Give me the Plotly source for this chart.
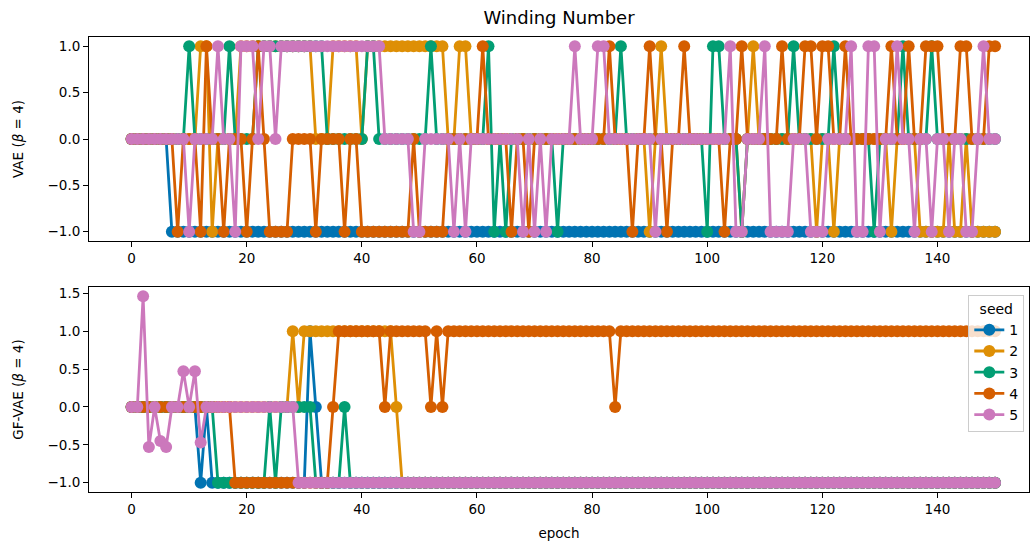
import plotly.graph_objects as go

# ---------------- data ----------------
epochs = list(range(151))
seeds = ["1", "2", "3", "4", "5"]
colors = ["#0173b2", "#de8f05", "#029e73", "#d55e00", "#cc78bc"]

# Top panel: VAE (beta = 4)
top_seed1 = [
    0, 0, 0, 0, 0, 0, 0, -1, -1, -1,
    -1, -1, -1, -1, -1, -1, -1, -1, -1, -1,
    -1, -1, -1, -1, -1, -1, -1, -1, -1, -1,
    -1, -1, -1, -1, -1, -1, -1, -1, -1, -1,
    -1, -1, -1, -1, -1, -1, -1, -1, -1, -1,
    -1, -1, -1, -1, -1, -1, -1, -1, -1, -1,
    -1, -1, -1, -1, -1, -1, -1, -1, -1, -1,
    -1, -1, -1, -1, -1, -1, -1, -1, -1, -1,
    -1, -1, -1, -1, -1, -1, -1, -1, -1, -1,
    -1, -1, -1, -1, -1, -1, -1, -1, -1, -1,
    -1, -1, -1, -1, -1, -1, -1, -1, -1, -1,
    -1, -1, -1, -1, -1, -1, -1, -1, -1, -1,
    -1, -1, -1, -1, -1, -1, -1, -1, -1, -1,
    -1, -1, -1, -1, -1, -1, -1, -1, -1, -1,
    -1, -1, -1, -1, -1, -1, -1, -1, -1, -1,
    -1,
]
top_seed2 = [
    0, 0, 0, 0, 0, 0, 0, 0, 0, 0,
    0, 0, 1, 1, -1, 0, 0, 0, 0, 1,
    1, 1, 1, 1, 1, 1, 1, 1, 1, 1,
    1, 1, 0, 0, 0, 1, 1, 1, 1, 1,
    0, 1, 1, 1, 1, 1, 1, 1, 1, 1,
    1, 1, 1, 1, 1, 0, 0, 1, 1, 0,
    0, 0, 0, 0, 0, 0, 0, 0, 0, 0,
    0, 0, 0, 0, 0, 0, 0, 0, 0, 0,
    0, 0, 0, 0, 0, 0, 0, 0, 0, 0,
    -1, 0, 1, 0, 0, 0, 0, 0, 0, 0,
    0, 0, 0, 0, 0, 0, -1, 0, 1, 0,
    0, 0, 0, 0, 0, 0, 0, 0, 0, -1,
    0, 0, -1, 0, 0, 0, 0, 0, 0, 0,
    0, 0, -1, 0, 0, 0, 0, -1, -1, -1,
    -1, -1, 0, -1, -1, 0, -1, -1, -1, -1,
    -1,
]
top_seed3 = [
    0, 0, 0, 0, 0, 0, 0, 0, 0, 0,
    1, 0, 0, 0, 0, 0, 0, 1, 0, 0,
    0, 0, 1, 1, 1, 1, 1, 1, 1, 1,
    1, 1, 1, 1, 0, 0, 0, 0, 0, 0,
    0, 1, 1, 0, 0, 0, 0, 0, 0, 0,
    0, 0, 1, 0, 0, 0, 0, 0, 0, 0,
    0, 0, 1, -1, 0, -1, 0, 0, 0, 0,
    0, 0, 0, 0, -1, 0, 0, 0, 0, 0,
    0, 0, 0, 0, 0, 1, 0, 0, 0, 0,
    0, 0, 0, 0, 0, 0, 0, 0, 0, 0,
    -1, 1, 1, 0, 0, 0, -1, 0, 0, 0,
    0, 0, 0, 0, 0, 1, 0, 0, 0, 0,
    0, 0, 1, 0, 0, 0, 0, 0, 0, -1,
    0, 0, 0, 0, 1, 0, 0, 0, 0, 1,
    0, 0, 0, 0, 0, 0, 0, 0, 0, 0,
    0,
]
top_seed4 = [
    0, 0, 0, 0, 0, 0, 0, 0, -1, 0,
    0, 0, -1, 1, 0, 0, -1, 0, 0, 0,
    -1, 0, 1, 0, -1, -1, -1, -1, 0, 0,
    0, 0, -1, 0, 0, 0, 0, -1, 0, 0,
    -1, -1, -1, -1, -1, -1, -1, -1, -1, 0,
    -1, -1, -1, -1, -1, 0, 0, 0, 0, 0,
    0, 1, 0, 0, 0, 0, -1, 0, 0, -1,
    0, 0, 0, 0, 0, 0, 0, 0, 0, 0,
    0, 0, 0, 1, 0, 0, 0, -1, 0, 0,
    1, 0, 0, -1, 0, 0, 1, 0, 0, 0,
    0, 0, 0, -1, 0, 0, 1, 0, 0, 0,
    0, 0, 0, 1, 0, 0, 0, 1, 1, 0,
    1, 1, 0, 0, 1, 0, 0, 0, 0, 0,
    0, 0, 1, 0, 0, 1, 0, 0, 1, 1,
    1, 0, 0, 0, 1, 1, 0, 0, 0, 1,
    1,
]
top_seed5 = [
    0, 0, 0, 0, 0, 0, 0, 0, 0, 0,
    -1, 0, 0, 0, 0, 1, 0, 0, -1, 1,
    1, 1, 0, 1, 1, 0, 1, 1, 1, 1,
    1, 1, 1, 1, 1, 1, 1, 1, 1, 1,
    1, 1, 1, 1, 0, 0, 0, 0, 0, -1,
    -1, 0, 0, 0, 0, 0, -1, 0, -1, 0,
    0, 0, 0, 0, 0, 0, 0, 0, -1, 0,
    -1, 0, -1, 0, 0, 0, 0, 1, 0, 0,
    0, 1, 1, 0, 0, 0, 0, 0, 0, 0,
    0, -1, 0, 0, 0, 0, 0, 0, 0, 0,
    0, 0, 0, 0, 1, -1, -1, 0, 0, 0,
    1, -1, -1, -1, -1, 0, 0, 0, -1, -1,
    -1, 0, 0, 0, 0, 1, -1, -1, 1, 1,
    -1, 0, 0, 1, 0, 0, -1, 0, 0, -1,
    0, 0, -1, 0, 0, -1, -1, 0, 1, 0,
    0,
]

# Bottom panel: GF-VAE (beta = 4)
bottom_seed1 = [
    0, 0, 0, 0, 0, 0, 0, 0, 0, 0,
    0, 0, -1, 0, -1, -1, -1, -1, -1, -1,
    -1, -1, -1, -1, -1, -1, -1, -1, -1, -1,
    -1, 1, 0, -1, -1, -1, -1, -1, -1, -1,
    -1, -1, -1, -1, -1, -1, -1, -1, -1, -1,
    -1, -1, -1, -1, -1, -1, -1, -1, -1, -1,
    -1, -1, -1, -1, -1, -1, -1, -1, -1, -1,
    -1, -1, -1, -1, -1, -1, -1, -1, -1, -1,
    -1, -1, -1, -1, -1, -1, -1, -1, -1, -1,
    -1, -1, -1, -1, -1, -1, -1, -1, -1, -1,
    -1, -1, -1, -1, -1, -1, -1, -1, -1, -1,
    -1, -1, -1, -1, -1, -1, -1, -1, -1, -1,
    -1, -1, -1, -1, -1, -1, -1, -1, -1, -1,
    -1, -1, -1, -1, -1, -1, -1, -1, -1, -1,
    -1, -1, -1, -1, -1, -1, -1, -1, -1, -1,
    -1,
]
bottom_seed2 = [
    0, 0, 0, 0, 0, 0, 0, 0, 0, 0,
    0, 0, 0, 0, 0, 0, 0, 0, 0, 0,
    0, 0, 0, 0, 0, 0, 0, 0, 1, 0,
    1, 1, 1, 1, 1, 1, 1, 1, 1, 1,
    1, 1, 1, 1, 1, 1, 0, -1, -1, -1,
    -1, -1, -1, -1, -1, -1, -1, -1, -1, -1,
    -1, -1, -1, -1, -1, -1, -1, -1, -1, -1,
    -1, -1, -1, -1, -1, -1, -1, -1, -1, -1,
    -1, -1, -1, -1, -1, -1, -1, -1, -1, -1,
    -1, -1, -1, -1, -1, -1, -1, -1, -1, -1,
    -1, -1, -1, -1, -1, -1, -1, -1, -1, -1,
    -1, -1, -1, -1, -1, -1, -1, -1, -1, -1,
    -1, -1, -1, -1, -1, -1, -1, -1, -1, -1,
    -1, -1, -1, -1, -1, -1, -1, -1, -1, -1,
    -1, -1, -1, -1, -1, -1, -1, -1, -1, -1,
    -1,
]
bottom_seed3 = [
    0, 0, 0, 0, 0, 0, 0, 0, 0, 0,
    0, 0, 0, 0, 0, -1, -1, -1, -1, -1,
    -1, -1, -1, -1, 0, -1, 0, 0, 0, 0,
    0, 0, -1, -1, -1, -1, -1, 0, -1, -1,
    -1, -1, -1, -1, -1, -1, -1, -1, -1, -1,
    -1, -1, -1, -1, -1, -1, -1, -1, -1, -1,
    -1, -1, -1, -1, -1, -1, -1, -1, -1, -1,
    -1, -1, -1, -1, -1, -1, -1, -1, -1, -1,
    -1, -1, -1, -1, -1, -1, -1, -1, -1, -1,
    -1, -1, -1, -1, -1, -1, -1, -1, -1, -1,
    -1, -1, -1, -1, -1, -1, -1, -1, -1, -1,
    -1, -1, -1, -1, -1, -1, -1, -1, -1, -1,
    -1, -1, -1, -1, -1, -1, -1, -1, -1, -1,
    -1, -1, -1, -1, -1, -1, -1, -1, -1, -1,
    -1, -1, -1, -1, -1, -1, -1, -1, -1, -1,
    -1,
]
bottom_seed4 = [
    0, 0, 0, 0, 0, 0, 0, 0, 0, 0,
    0, 0, 0, 0, 0, 0, 0, 0, -1, -1,
    -1, -1, -1, -1, -1, -1, -1, -1, -1, -1,
    -1, -1, -1, -1, -1, 0, 1, 1, 1, 1,
    1, 1, 1, 1, 0, 1, 1, 1, 1, 1,
    1, 1, 0, 1, 0, 1, 1, 1, 1, 1,
    1, 1, 1, 1, 1, 1, 1, 1, 1, 1,
    1, 1, 1, 1, 1, 1, 1, 1, 1, 1,
    1, 1, 1, 1, 0, 1, 1, 1, 1, 1,
    1, 1, 1, 1, 1, 1, 1, 1, 1, 1,
    1, 1, 1, 1, 1, 1, 1, 1, 1, 1,
    1, 1, 1, 1, 1, 1, 1, 1, 1, 1,
    1, 1, 1, 1, 1, 1, 1, 1, 1, 1,
    1, 1, 1, 1, 1, 1, 1, 1, 1, 1,
    1, 1, 1, 1, 1, 1, 1, 1, 1, 1,
    1,
]
bottom_seed5 = [
    0, 0, 1.46, -0.53, 0, -0.45, -0.53, 0, 0, 0.47,
    0, 0.47, -0.47, 0, 0, 0, 0, 0, 0, 0,
    0, 0, 0, 0, 0, 0, 0, 0, 0, -1,
    -1, -1, -1, -1, -1, -1, -1, -1, -1, -1,
    -1, -1, -1, -1, -1, -1, -1, -1, -1, -1,
    -1, -1, -1, -1, -1, -1, -1, -1, -1, -1,
    -1, -1, -1, -1, -1, -1, -1, -1, -1, -1,
    -1, -1, -1, -1, -1, -1, -1, -1, -1, -1,
    -1, -1, -1, -1, -1, -1, -1, -1, -1, -1,
    -1, -1, -1, -1, -1, -1, -1, -1, -1, -1,
    -1, -1, -1, -1, -1, -1, -1, -1, -1, -1,
    -1, -1, -1, -1, -1, -1, -1, -1, -1, -1,
    -1, -1, -1, -1, -1, -1, -1, -1, -1, -1,
    -1, -1, -1, -1, -1, -1, -1, -1, -1, -1,
    -1, -1, -1, -1, -1, -1, -1, -1, -1, -1,
    -1,
]

top_series = [top_seed1, top_seed2, top_seed3, top_seed4, top_seed5]
bottom_series = [bottom_seed1, bottom_seed2, bottom_seed3, bottom_seed4, bottom_seed5]

x_ticks = [0, 20, 40, 60, 80, 100, 120, 140]
top_y_ticks = [-1.0, -0.5, 0.0, 0.5, 1.0]
bottom_y_ticks = [-1.0, -0.5, 0.0, 0.5, 1.0, 1.5]


def fmt(v):
    s = f"{abs(v):.1f}"
    return ("\u2212" + s) if v < 0 else s


# ---------------- figure ----------------
FONT = "DejaVu Sans"
fig = go.Figure()

for s, c, ys in zip(seeds, colors, top_series):
    fig.add_trace(go.Scatter(
        x=epochs, y=ys, mode="lines+markers", name=s,
        line=dict(color=c, width=2.8),
        marker=dict(size=12, color=c),
        xaxis="x", yaxis="y", showlegend=False,
    ))
for s, c, ys in zip(seeds, colors, bottom_series):
    fig.add_trace(go.Scatter(
        x=epochs, y=ys, mode="lines+markers", name=s,
        line=dict(color=c, width=2.8),
        marker=dict(size=12, color=c),
        xaxis="x2", yaxis="y2", showlegend=True,
    ))

axis_common = dict(
    showline=True, linecolor="black", linewidth=1, mirror=True,
    ticks="outside", ticklen=5, tickwidth=1, tickcolor="black",
    showgrid=False, zeroline=False,
    tickfont=dict(family=FONT, size=13.5, color="black"),
)

fig.update_layout(
    width=1033, height=547,
    margin=dict(l=89, r=4, t=37, b=55),
    paper_bgcolor="white", plot_bgcolor="white",
    font=dict(family=FONT, size=13, color="black"),
    title=dict(text="Winding Number", x=0.5, xref="paper", xanchor="center",
               y=1 - 18 / 547, yref="container", yanchor="middle",
               font=dict(family=FONT, size=18, color="black")),
    xaxis=dict(domain=[0, 1], anchor="y", range=[-7.4, 155.9],
               tickvals=x_ticks, ticktext=[str(t) for t in x_ticks], **axis_common),
    yaxis=dict(domain=[0.5516, 1], anchor="x", range=[-1.1, 1.1],
               tickvals=top_y_ticks, ticktext=[fmt(v) for v in top_y_ticks],
               title=dict(text="VAE (<i>β</i> = 4)", standoff=20,
                          font=dict(family=FONT, size=13.5)),
               **axis_common),
    xaxis2=dict(domain=[0, 1], anchor="y2", range=[-7.4, 155.9],
                tickvals=x_ticks, ticktext=[str(t) for t in x_ticks],
                title=dict(text="epoch", standoff=12, font=dict(family=FONT, size=13.5)),
                **axis_common),
    yaxis2=dict(domain=[0, 0.4505], anchor="x2", range=[-1.123, 1.583],
                tickvals=bottom_y_ticks, ticktext=[fmt(v) for v in bottom_y_ticks],
                title=dict(text="GF-VAE (<i>β</i> = 4)", standoff=20,
                           font=dict(family=FONT, size=13.5)),
                **axis_common),
    legend=dict(
        title=dict(text="seed", side="top center", font=dict(family=FONT, size=14)),
        x=0.995, xanchor="right", y=0.433, yanchor="top",
        bgcolor="rgba(255,255,255,0.8)", bordercolor="#cccccc", borderwidth=1,
        font=dict(family=FONT, size=14, color="black"),
    ),
)

fig.write_html(
    "out.html",
    config={"displayModeBar": False},
    post_script="document.body.style.margin='0';document.body.style.overflow='hidden';",
)
